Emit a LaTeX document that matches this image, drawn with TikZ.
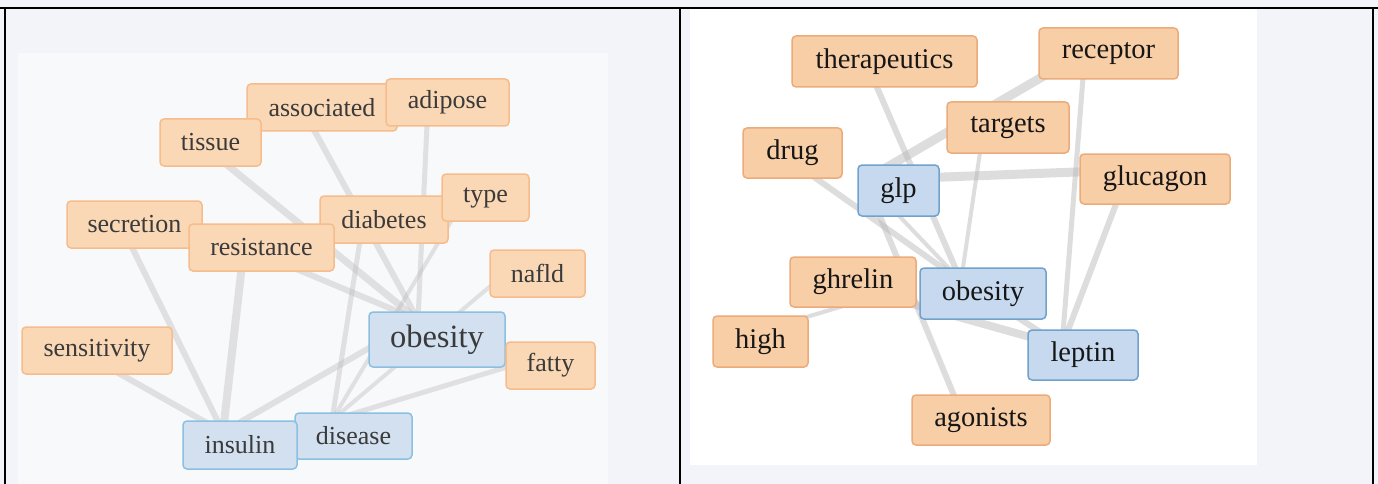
\documentclass[tikz,border=0pt]{standalone}
\usepackage{fontspec}
\setmainfont{Liberation Serif}
\definecolor{pagebg}{RGB}{243,244,249}
\definecolor{panelbg}{RGB}{248,249,251}
\definecolor{orfillL}{RGB}{250,216,182}
\definecolor{ordrawL}{RGB}{246,188,140}
\definecolor{blfillL}{RGB}{210,224,240}
\definecolor{bldrawL}{RGB}{140,192,226}
\definecolor{orfillR}{RGB}{247,206,166}
\definecolor{ordrawR}{RGB}{236,172,122}
\definecolor{blfillR}{RGB}{199,217,238}
\definecolor{bldrawR}{RGB}{112,162,204}
\definecolor{edgec}{RGB}{185,185,188}
\definecolor{txtL}{RGB}{58,58,58}
\definecolor{txtR}{RGB}{22,22,22}
\tikzset{
  lab/.style={rectangle, rounded corners=4pt, line width=1.5pt, inner sep=0pt, align=center},
  orL/.style={lab, fill=orfillL, draw=ordrawL, text=txtL, font=\fontsize{26}{28}\selectfont},
  blL/.style={lab, fill=blfillL, draw=bldrawL, text=txtL, font=\fontsize{26}{28}\selectfont},
  blLbig/.style={blL, font=\fontsize{32.5}{34}\selectfont},
  orR/.style={lab, fill=orfillR, draw=ordrawR, text=txtR, font=\fontsize{28.5}{30}\selectfont},
  blR/.style={lab, fill=blfillR, draw=bldrawR, text=txtR, font=\fontsize{28.5}{30}\selectfont},
  edL/.style={draw=edgec, opacity=0.38, line cap=butt},
  edR/.style={draw=edgec, opacity=0.48, line cap=butt},
  frame/.style={draw=black, line width=2.2pt}
}
\begin{document}
\begin{tikzpicture}[x=1pt,y=-1pt]
\useasboundingbox (0,0) rectangle (1378,484);
\fill[pagebg] (0,0) rectangle (1378,484);
% panels
\fill[panelbg] (18,53) rectangle (608,484);
\fill[white] (690,9) rectangle (1257,465);
% frame
\draw[frame] (0,8) -- (1378,8);
\draw[frame] (5,8) -- (5,484);
\draw[frame] (680,8) -- (680,484);
\draw[frame] (1373,8) -- (1373,484);

% ---------- left graph: hidden node points ----------
\coordinate (pAss) at (302,108);
\coordinate (pAdi) at (428,103);
\coordinate (pTis) at (205,147);
\coordinate (pSec) at (121,225);
\coordinate (pRes) at (244,247);
\coordinate (pDia) at (364,215);
\coordinate (pTyp) at (465,198);
\coordinate (pNaf) at (513,267);
\coordinate (pObL) at (418,320);
\coordinate (pFat) at (540,357);
\coordinate (pSen) at (90,357);
\coordinate (pIns) at (223,432);
\coordinate (pDis) at (332,420);

\draw[edL, line width=6pt] (pAss) -- (pObL);
\draw[edL, line width=5pt] (pAdi) -- (pObL);
\draw[edL, line width=7pt] (pTis) -- (pObL);
\draw[edL, line width=6pt] (pRes) -- (pObL);
\draw[edL, line width=8pt] (pRes) -- (pIns);
\draw[edL, line width=6pt] (pSec) -- (pIns);
\draw[edL, line width=6pt] (pSen) -- (pIns);
\draw[edL, line width=6pt] (pObL) -- (pIns);
\draw[edL, line width=5pt] (pDia) -- (pDis);
\draw[edL, line width=4pt] (pTyp) -- (pDis);
\draw[edL, line width=4pt] (pNaf) -- (pDis);
\draw[edL, line width=5pt] (pFat) -- (pDis);

% ---------- left graph: labels ----------
\node[orL, minimum width=150pt, minimum height=47pt] (associated) at (322,107.5) {associated};
\node[orL, minimum width=123pt, minimum height=47pt] (adipose) at (447.5,102.5) {adipose};
\node[orL, minimum width=101pt, minimum height=47pt] (tissue) at (210.5,142.5) {tissue};
\node[orL, minimum width=135pt, minimum height=47pt] (secretion) at (134.5,224.5) {secretion};
\node[orL, minimum width=128pt, minimum height=47pt] (diabetes) at (384,219.5) {diabetes};
\node[orL, minimum width=145pt, minimum height=47pt] (resistance) at (261.5,247.5) {resistance};
\node[orL, minimum width=87pt, minimum height=47pt] (type) at (485.5,197.5) {type};
\node[orL, minimum width=95pt, minimum height=47pt] (nafld) at (537.5,273.5) {nafld};
\node[blLbig, minimum width=136pt, minimum height=55pt] (obL) at (437,339.5) {obesity};
\node[orL, minimum width=89pt, minimum height=47pt] (fatty) at (550.5,365.5) {fatty};
\node[orL, minimum width=150pt, minimum height=47pt] (sensitivity) at (97,350.5) {sensitivity};
\node[blL, minimum width=117pt, minimum height=46pt] (disease) at (353.5,436) {disease};
\node[blL, minimum width=114pt, minimum height=48pt] (insulin) at (240,445) {insulin};

% ---------- right graph: hidden node points ----------
\coordinate (pThe) at (866,62);
\coordinate (pRec) at (1085,52);
\coordinate (pTar) at (984,125);
\coordinate (pDru) at (790,160);
\coordinate (pGlp) at (865,180);
\coordinate (pGlu) at (1129,170);
\coordinate (pGhr) at (880,295);
\coordinate (pObR) at (961,281);
\coordinate (pHig) at (770,328);
\coordinate (pLep) at (1062,346);
\coordinate (pAgo) at (962,415);

\draw[edR, line width=6pt] (pThe) -- (pObR);
\draw[edR, line width=9pt] (pRec) -- (pGlp);
\draw[edR, line width=5pt] (pRec) -- (pLep);
\draw[edR, line width=9pt] (pGlp) -- (pGlu);
\draw[edR, line width=6pt] (pGlu) -- (pLep);
\draw[edR, line width=4pt] (pTar) -- (pObR);
\draw[edR, line width=6pt] (pDru) -- (pObR);
\draw[edR, line width=4pt] (pGlp) -- (pObR);
\draw[edR, line width=6pt] (pGlp) -- (pAgo);
\draw[edR, line width=4pt] (pHig) -- (pGhr);
\draw[edR, line width=8pt] (pGhr) -- (pLep);
\draw[edR, line width=6pt] (pObR) -- (pLep);

% ---------- right graph: labels ----------
\node[orR, minimum width=185pt, minimum height=51pt] (therapeutics) at (884.5,61.5) {therapeutics};
\node[orR, minimum width=139pt, minimum height=51pt] (receptor) at (1108.5,53.5) {receptor};
\node[orR, minimum width=122pt, minimum height=51pt] (targets) at (1008,127.5) {targets};
\node[orR, minimum width=99pt, minimum height=50pt] (drug) at (792.5,153) {drug};
\node[blR, minimum width=81pt, minimum height=51pt] (glp) at (898.5,190.5) {glp};
\node[orR, minimum width=150pt, minimum height=50pt] (glucagon) at (1155,179) {glucagon};
\node[orR, minimum width=126pt, minimum height=50pt] (ghrelin) at (853,282) {ghrelin};
\node[blR, minimum width=126pt, minimum height=51pt] (obR) at (983,293.5) {obesity};
\node[orR, minimum width=95pt, minimum height=51pt] (high) at (760.5,341.5) {high};
\node[blR, minimum width=110pt, minimum height=50pt] (leptin) at (1083,355) {leptin};
\node[orR, minimum width=138pt, minimum height=50pt] (agonists) at (981,420) {agonists};
\end{tikzpicture}
\end{document}
